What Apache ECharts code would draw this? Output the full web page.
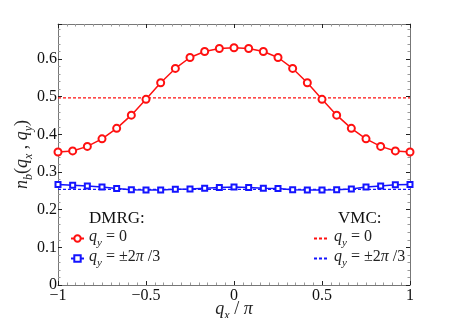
<!DOCTYPE html>
<html><head><meta charset="utf-8">
<script src="https://cdn.jsdelivr.net/npm/echarts@6/dist/echarts.min.js"></script>
<style>html,body{margin:0;padding:0;background:#fff}#c{width:453px;height:318px}</style>
</head><body><div id="c"></div>
<script>
// ---- data ----
const qx = [-1, -0.9167, -0.8333, -0.75, -0.6667, -0.5833, -0.5, -0.4167, -0.3333, -0.25, -0.1667, -0.0833, 0,
            0.0833, 0.1667, 0.25, 0.3333, 0.4167, 0.5, 0.5833, 0.6667, 0.75, 0.8333, 0.9167, 1];
const dmrgQy0 = [0.353, 0.356, 0.368, 0.388, 0.416, 0.451, 0.493, 0.537, 0.575, 0.604, 0.620, 0.628, 0.630,
                 0.628, 0.620, 0.604, 0.575, 0.537, 0.493, 0.451, 0.416, 0.388, 0.368, 0.356, 0.353];
const dmrgQy23 = [0.267, 0.265, 0.263, 0.260, 0.256, 0.253, 0.252, 0.252, 0.254, 0.255, 0.257, 0.259, 0.260,
                  0.259, 0.257, 0.256, 0.253, 0.252, 0.252, 0.253, 0.255, 0.260, 0.263, 0.266, 0.267];
const vmcX = [-1, 1];
const vmcQy0 = [0.497, 0.497];
const vmcQy23 = [0.254, 0.254];

const SERIF = '"Liberation Serif", "DejaVu Serif", serif';
const RED = '#ff1010', BLUE = '#1414ff';
const pair = (xs, ys) => xs.map((x, i) => [x, ys[i]]);

const mkRich = (fs, sfs) => {
  const L = fs + 3;
  const P = Math.round(L / 2 + fs * 0.3 - sfs / 2);
  return {
    i: {fontFamily: SERIF, fontStyle: 'italic', fontSize: fs, color: '#222', lineHeight: L, verticalAlign: 'top'},
    s: {fontFamily: SERIF, fontStyle: 'italic', fontSize: sfs, color: '#222', lineHeight: sfs, verticalAlign: 'top', padding: [P, 0, 0, 0]},
    n: {fontFamily: SERIF, fontSize: fs, color: '#222', lineHeight: L, verticalAlign: 'top'}
  };
};
const legendRich = mkRich(16, 11);
const nameRich = mkRich(18, 12);
const legendText = {
  'DMRG0': '{i|q}{s|y}{n| = 0}',
  'DMRG23': '{i|q}{s|y}{n| = ±2}{i|π}{n| /3}',
  'VMC0': '{i|q}{s|y}{n| = 0}',
  'VMC23': '{i|q}{s|y}{n| = ±2}{i|π}{n| /3}'
};
const fmtNum = v => {
  const r = Math.round(v * 100) / 100;
  return String(r).replace('-', '\u2212');
};

const chart = echarts.init(document.getElementById('c'));
const frameColor = '#777';
const majorTick = {show: true, inside: true, length: 4, lineStyle: {color: '#222', width: 1}};
const minorTick = (n) => ({show: true, splitNumber: n, length: 2.5, lineStyle: {color: '#999', width: 1}});
const line = {show: true, onZero: false, lineStyle: {color: frameColor, width: 1}};

chart.setOption({
  animation: false,
  backgroundColor: '#fff',
  grid: {left: 58, right: 43, top: 24, bottom: 33, show: false, containLabel: false, outerBoundsMode: 'none'},
  xAxis: [{
    type: 'value', min: -1, max: 1, interval: 0.5,
    axisLine: line, axisTick: majorTick, minorTick: minorTick(10), splitLine: {show: false},
    axisLabel: {fontFamily: SERIF, fontSize: 16, color: '#111', margin: 3,
      formatter: v => fmtNum(v)},
    name: '{i|q}{s|x}{n| / }{i|π}', nameLocation: 'middle', nameGap: 15, nameMoveOverlap: false,
    nameTextStyle: {rich: nameRich}
  }, {
    type: 'value', min: -1, max: 1, interval: 0.5, position: 'top',
    axisLine: line, axisTick: majorTick, minorTick: minorTick(10), splitLine: {show: false},
    axisLabel: {show: false}
  }],
  yAxis: [{
    type: 'value', min: 0, max: 0.693, interval: 0.1,
    axisLine: line, axisTick: majorTick, minorTick: minorTick(5), splitLine: {show: false},
    axisLabel: {fontFamily: SERIF, fontSize: 16, color: '#111', margin: 1, showMaxLabel: false,
      formatter: v => (Math.abs(v * 10 - Math.round(v * 10)) < 1e-6 ? fmtNum(v) : '')},
    name: '{i|n}{s|b}{n|(}{i|q}{s|x}{n| , }{i|q}{s|y}{n|)}', nameLocation: 'middle', nameGap: 24, nameMoveOverlap: false,
    nameTextStyle: {rich: nameRich}
  }, {
    type: 'value', min: 0, max: 0.693, interval: 0.1, position: 'right',
    axisLine: line, axisTick: majorTick, minorTick: minorTick(5), splitLine: {show: false},
    axisLabel: {show: false}
  }],
  legend: [{
    orient: 'vertical', left: 65, top: 224, itemWidth: 13, itemHeight: 8, itemGap: 0,
    data: ['DMRG0', 'DMRG23'],
    formatter: n => legendText[n],
    textStyle: {rich: legendRich}
  }, {
    orient: 'vertical', left: 308, top: 224, itemWidth: 15, itemHeight: 8, itemGap: 0,
    data: ['VMC0', 'VMC23'],
    itemStyle: {opacity: 0},
    formatter: n => legendText[n],
    textStyle: {rich: legendRich}
  }],
  graphic: [
    {type: 'text', left: 89, top: 210, style: {text: 'DMRG:', font: '17px ' + SERIF, fill: '#111'}},
    {type: 'text', left: 338, top: 210, style: {text: 'VMC:', font: '17px ' + SERIF, fill: '#111'}}
  ],
  series: [
    {name: 'VMC0', type: 'line', data: pair(vmcX, vmcQy0), symbol: 'none', z: 1,
     lineStyle: {color: RED, width: 1.3, type: [3, 2]}, itemStyle: {color: RED}},
    {name: 'VMC23', type: 'line', data: pair(vmcX, vmcQy23), symbol: 'none', z: 1,
     lineStyle: {color: BLUE, width: 1.3, type: [3, 2]}, itemStyle: {color: BLUE}},
    {name: 'DMRG0', type: 'line', data: pair(qx, dmrgQy0), symbol: 'emptyCircle', symbolSize: 7, z: 3,
     lineStyle: {color: RED, width: 1.5}, itemStyle: {color: RED, borderColor: RED, borderWidth: 1.5}},
    {name: 'DMRG23', type: 'line', data: pair(qx, dmrgQy23), symbol: 'emptyRect', symbolSize: 5, z: 3,
     lineStyle: {color: BLUE, width: 1.5}, itemStyle: {color: BLUE, borderColor: BLUE, borderWidth: 1.5}}
  ]
});
</script></body></html>
